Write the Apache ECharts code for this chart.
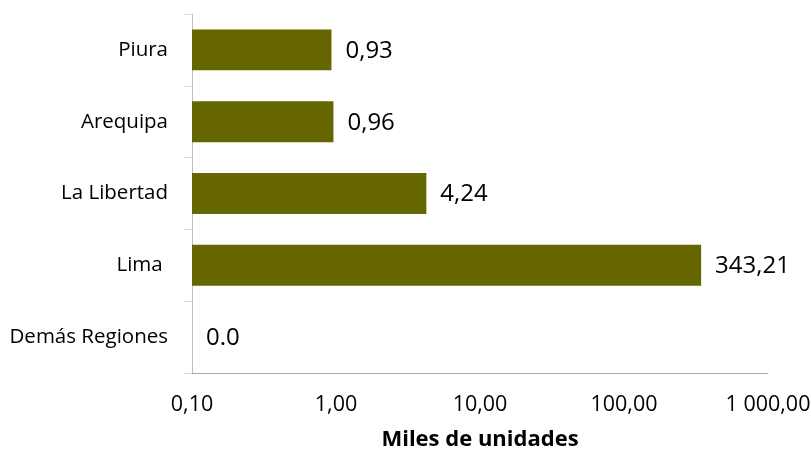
<!DOCTYPE html>
<html>
<head>
<meta charset="utf-8">
<script src="https://cdn.jsdelivr.net/npm/echarts@6/dist/echarts.min.js"></script>
<style>html,body{margin:0;padding:0;background:#fff;}#c{width:811px;height:452px;}</style>
</head>
<body>
<div id="c"></div>
<script>
// Data (bottom to top)
const categories = ['Demás Regiones', 'Lima ', 'La Libertad', 'Arequipa', 'Piura'];
const values = [0, 343.21, 4.24, 0.96, 0.93];
const valueLabels = ['0.0', '343,21', '4,24', '0,96', '0,93'];
const xTickValues = [0.1, 1, 10, 100, 1000];
const xTickLabels = ['0,10', '1,00', '10,00', '100,00', '1 000,00'];
const xAxisName = 'Miles de unidades';

const axisMin = xTickValues[0];
const axisMax = xTickValues[xTickValues.length - 1];
const font = 'Open Sans';
const barColor = '#666600';
const barRatio = 0.57;

const chart = echarts.init(document.getElementById('c'));
chart.setOption({
  animation: false,
  grid: { left: 192, right: 43, top: 14, bottom: 79, containLabel: false, outerBoundsMode: 'none' },
  xAxis: {
    type: 'log',
    logBase: 10,
    min: axisMin,
    max: axisMax,
    name: xAxisName,
    nameLocation: 'middle',
    nameGap: 56,
    nameTextStyle: { fontFamily: font, fontSize: 22, fontWeight: 'bold', color: '#000' },
    axisLine: { show: true, lineStyle: { color: '#a6a6a6', width: 1 } },
    axisTick: { show: false },
    splitLine: { show: false },
    axisLabel: {
      margin: 21,
      fontFamily: font, fontSize: 21.5, color: '#000',
      formatter: function (v) {
        for (let i = 0; i < xTickValues.length; i++) {
          if (Math.abs(Math.log10(v) - Math.log10(xTickValues[i])) < 1e-6) return xTickLabels[i];
        }
        return '';
      }
    }
  },
  yAxis: {
    type: 'category',
    data: categories,
    axisLine: { show: true, lineStyle: { color: '#bfbfbf', width: 1 } },
    axisTick: { show: true, length: 8, lineStyle: { color: '#d9d9d9' } },
    axisLabel: { margin: 24, fontFamily: font, fontSize: 20.5, color: '#000' }
  },
  series: [{
    type: 'custom',
    data: values.map((v, i) => [v > 0 ? v : axisMin, i]),
    encode: { x: 0, y: 1 },
    renderItem: function (params, api) {
      const idx = api.value(1);
      const start = api.coord([axisMin, idx]);
      const end = api.coord([api.value(0), idx]);
      const h = api.size([0, 1])[1] * barRatio;
      const children = [];
      if (end[0] - start[0] > 0.5) {
        children.push({
          type: 'rect',
          shape: { x: start[0], y: end[1] - h / 2, width: end[0] - start[0], height: h },
          style: { fill: barColor }
        });
      }
      children.push({
        type: 'text',
        style: {
          text: valueLabels[params.dataIndex],
          x: end[0] + 14, y: end[1] + 1,
          align: 'left', verticalAlign: 'middle',
          fontFamily: font, fontSize: 24, fill: '#000'
        }
      });
      return { type: 'group', children: children };
    }
  }]
});
</script>
</body>
</html>
